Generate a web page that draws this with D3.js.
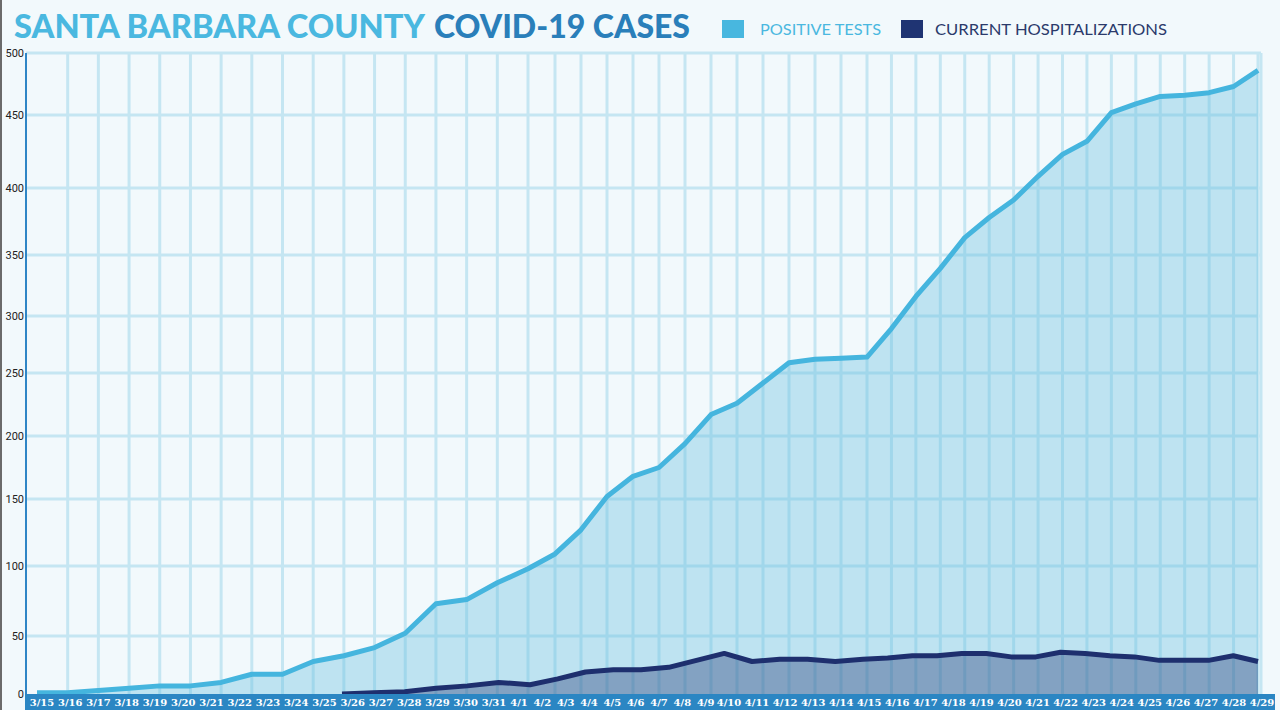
<!DOCTYPE html>
<html>
<head>
<meta charset="utf-8">
<script src="https://cdn.jsdelivr.net/npm/d3@7"></script>
<style>
  html, body { margin: 0; padding: 0; background: #f2f9fc; }
  svg { display: block; }
</style>
</head>
<body>
<svg id="chart" width="1280" height="710"></svg>
<script>
// ---------- DATA ----------
const dates = ["3/15","3/16","3/17","3/18","3/19","3/20","3/21","3/22","3/23","3/24","3/25","3/26","3/27","3/28","3/29","3/30","3/31",
  "4/1","4/2","4/3","4/4","4/5","4/6","4/7","4/8","4/9","4/10","4/11","4/12","4/13","4/14","4/15","4/16","4/17","4/18","4/19","4/20",
  "4/21","4/22","4/23","4/24","4/25","4/26","4/27","4/28","4/29"];
const positiveTests = [1,1,3,5,7,7,10,17,17,28,33,40,52,73,76,88,98,
  109,127,152,168,175,194,217,226,242,259,262,263,264,289,316,339,363,378,391,408,
  423,432,452,459,465,466,468,473,486];
const hospitalizations = [null,null,null,null,null,null,null,null,null,null,null,0,1,2,5,7,10,
  8,13,19,21,21,23,29,35,28,30,30,28,30,31,33,33,35,35,32,32,
  36,35,33,32,29,29,29,33,28];
const yTicks = [0,50,100,150,200,250,300,350,400,450,500];
const titleParts = ["SANTA BARBARA COUNTY", "COVID-19 CASES"];
const legendLabels = ["POSITIVE TESTS", "CURRENT HOSPITALIZATIONS"];

(function () {
// ---------- SCALES ----------
const svg = d3.select("#chart");
const idx = dates.map((d, i) => i);
// hand-drawn original: spacing of days is not uniform, and each layer was placed separately
const x = d3.scaleLinear().domain([0, 16, 17, 29, 45]).range([37, 528, 555, 867, 1258]);
const xHosp = d3.scaleLinear().domain([11, 17, 29, 45]).range([342, 530, 863, 1258]);
const xLab = d3.scaleLinear().domain([0, 16, 17, 26, 45]).range([42, 494, 519, 729, 1262]);
const y = d3.scaleLinear().domain(yTicks).range([694, 636, 566, 499, 436, 373, 316, 255, 188, 115, 53]);

const pLeft = 26, pRight = 1261, pTop = 53, pBottom = 694;

// left dark border
svg.append("rect").attr("x", 0).attr("y", 0).attr("width", 2).attr("height", 710).attr("fill", "#6b6b6b");

// ---------- GRID ----------
const grid = svg.append("g").attr("stroke", "#c5e6f2").attr("stroke-width", 3);
grid.selectAll("line.h").data(yTicks.filter(t => t > 0)).join("line")
  .attr("class", "h")
  .attr("x1", pLeft).attr("x2", pRight)
  .attr("y1", d => y(d)).attr("y2", d => y(d));
grid.selectAll("line.v").data(idx.slice(1)).join("line")
  .attr("class", "v")
  .attr("x1", d => x(d)).attr("x2", d => x(d))
  .attr("y1", pTop).attr("y2", pBottom);
grid.append("line").attr("x1", pRight).attr("x2", pRight).attr("y1", pTop).attr("y2", pBottom);

// ---------- AREAS & LINES ----------
const posData = idx.map(i => ({ i, v: positiveTests[i] }));
const hosData = idx.map(i => ({ i, v: hospitalizations[i] }));

svg.append("path").datum(posData)
  .attr("fill", "rgb(96,188,222)").attr("fill-opacity", 0.36)
  .attr("d", d3.area().x(d => x(d.i)).y0(y(0)).y1(d => y(d.v)));

svg.append("path").datum(hosData)
  .attr("fill", "#1f3473").attr("fill-opacity", 0.37)
  .attr("d", d3.area().defined(d => d.v != null).x(d => xHosp(d.i)).y0(y(0)).y1(d => y(d.v)));

svg.append("path").datum(posData)
  .attr("fill", "none").attr("stroke", "#45b5de").attr("stroke-width", 5)
  .attr("stroke-linejoin", "round")
  .attr("d", d3.line().x(d => x(d.i)).y(d => y(d.v)));

svg.append("path").datum(hosData)
  .attr("fill", "none").attr("stroke", "#1e2f6e").attr("stroke-width", 5)
  .attr("stroke-linejoin", "round")
  .attr("d", d3.line().defined(d => d.v != null).x(d => xHosp(d.i)).y(d => y(d.v)));

// ---------- Y AXIS ----------
svg.append("line").attr("x1", pLeft).attr("x2", pLeft).attr("y1", pTop).attr("y2", pBottom)
  .attr("stroke", "#2f86c6").attr("stroke-width", 2);
svg.append("g").selectAll("text").data(yTicks).join("text")
  .attr("x", 24).attr("y", d => y(d)).attr("dy", "0.35em")
  .attr("text-anchor", "end")
  .attr("font-family", "Roboto, 'Liberation Sans', sans-serif")
  .attr("font-size", 11).attr("fill", "#222")
  .text(d => d);

// ---------- X AXIS BAND ----------
svg.append("rect").attr("x", pLeft - 1).attr("y", pBottom).attr("width", 1276 - pLeft).attr("height", 16)
  .attr("fill", "#2b86c3");
svg.append("g").selectAll("text").data(idx).join("text")
  .attr("x", d => xLab(d)).attr("y", 706)
  .attr("text-anchor", "middle")
  .attr("font-family", "'DejaVu Serif', 'Liberation Serif', serif")
  .attr("font-weight", "bold").attr("font-size", 10)
  .attr("fill", "#ffffff")
  .text(d => dates[d]);

// ---------- TITLE ----------
const titleFont = "Lato, 'Open Sans', sans-serif";
svg.append("text").attr("x", 14).attr("y", 38)
  .attr("font-family", titleFont).attr("font-weight", 900).attr("font-size", 33)
  .attr("fill", "#4ab8e0")
  .attr("textLength", 411).attr("lengthAdjust", "spacingAndGlyphs")
  .text(titleParts[0]);
svg.append("text").attr("x", 434).attr("y", 38)
  .attr("font-family", titleFont).attr("font-weight", 900).attr("font-size", 33)
  .attr("fill", "#2a7fba")
  .attr("textLength", 256).attr("lengthAdjust", "spacingAndGlyphs")
  .text(titleParts[1]);

// ---------- LEGEND ----------
const legend = [
  { label: legendLabels[0], sw: "#48b7df", tx: "#4ab8e0", sx: 722, tx0: 760, len: 121 },
  { label: legendLabels[1], sw: "#1f3473", tx: "#2b3a6b", sx: 901, tx0: 935, len: 232 }
];
const lg = svg.append("g");
lg.selectAll("rect").data(legend).join("rect")
  .attr("x", d => d.sx).attr("y", 20).attr("width", 22).attr("height", 18)
  .attr("fill", d => d.sw);
lg.selectAll("text").data(legend).join("text")
  .attr("x", d => d.tx0).attr("y", 35)
  .attr("font-family", "Lato, 'Open Sans', sans-serif").attr("font-weight", 400)
  .attr("font-size", 15).attr("fill", d => d.tx)
  .attr("textLength", d => d.len).attr("lengthAdjust", "spacingAndGlyphs")
  .text(d => d.label);
})();
</script>
</body>
</html>
